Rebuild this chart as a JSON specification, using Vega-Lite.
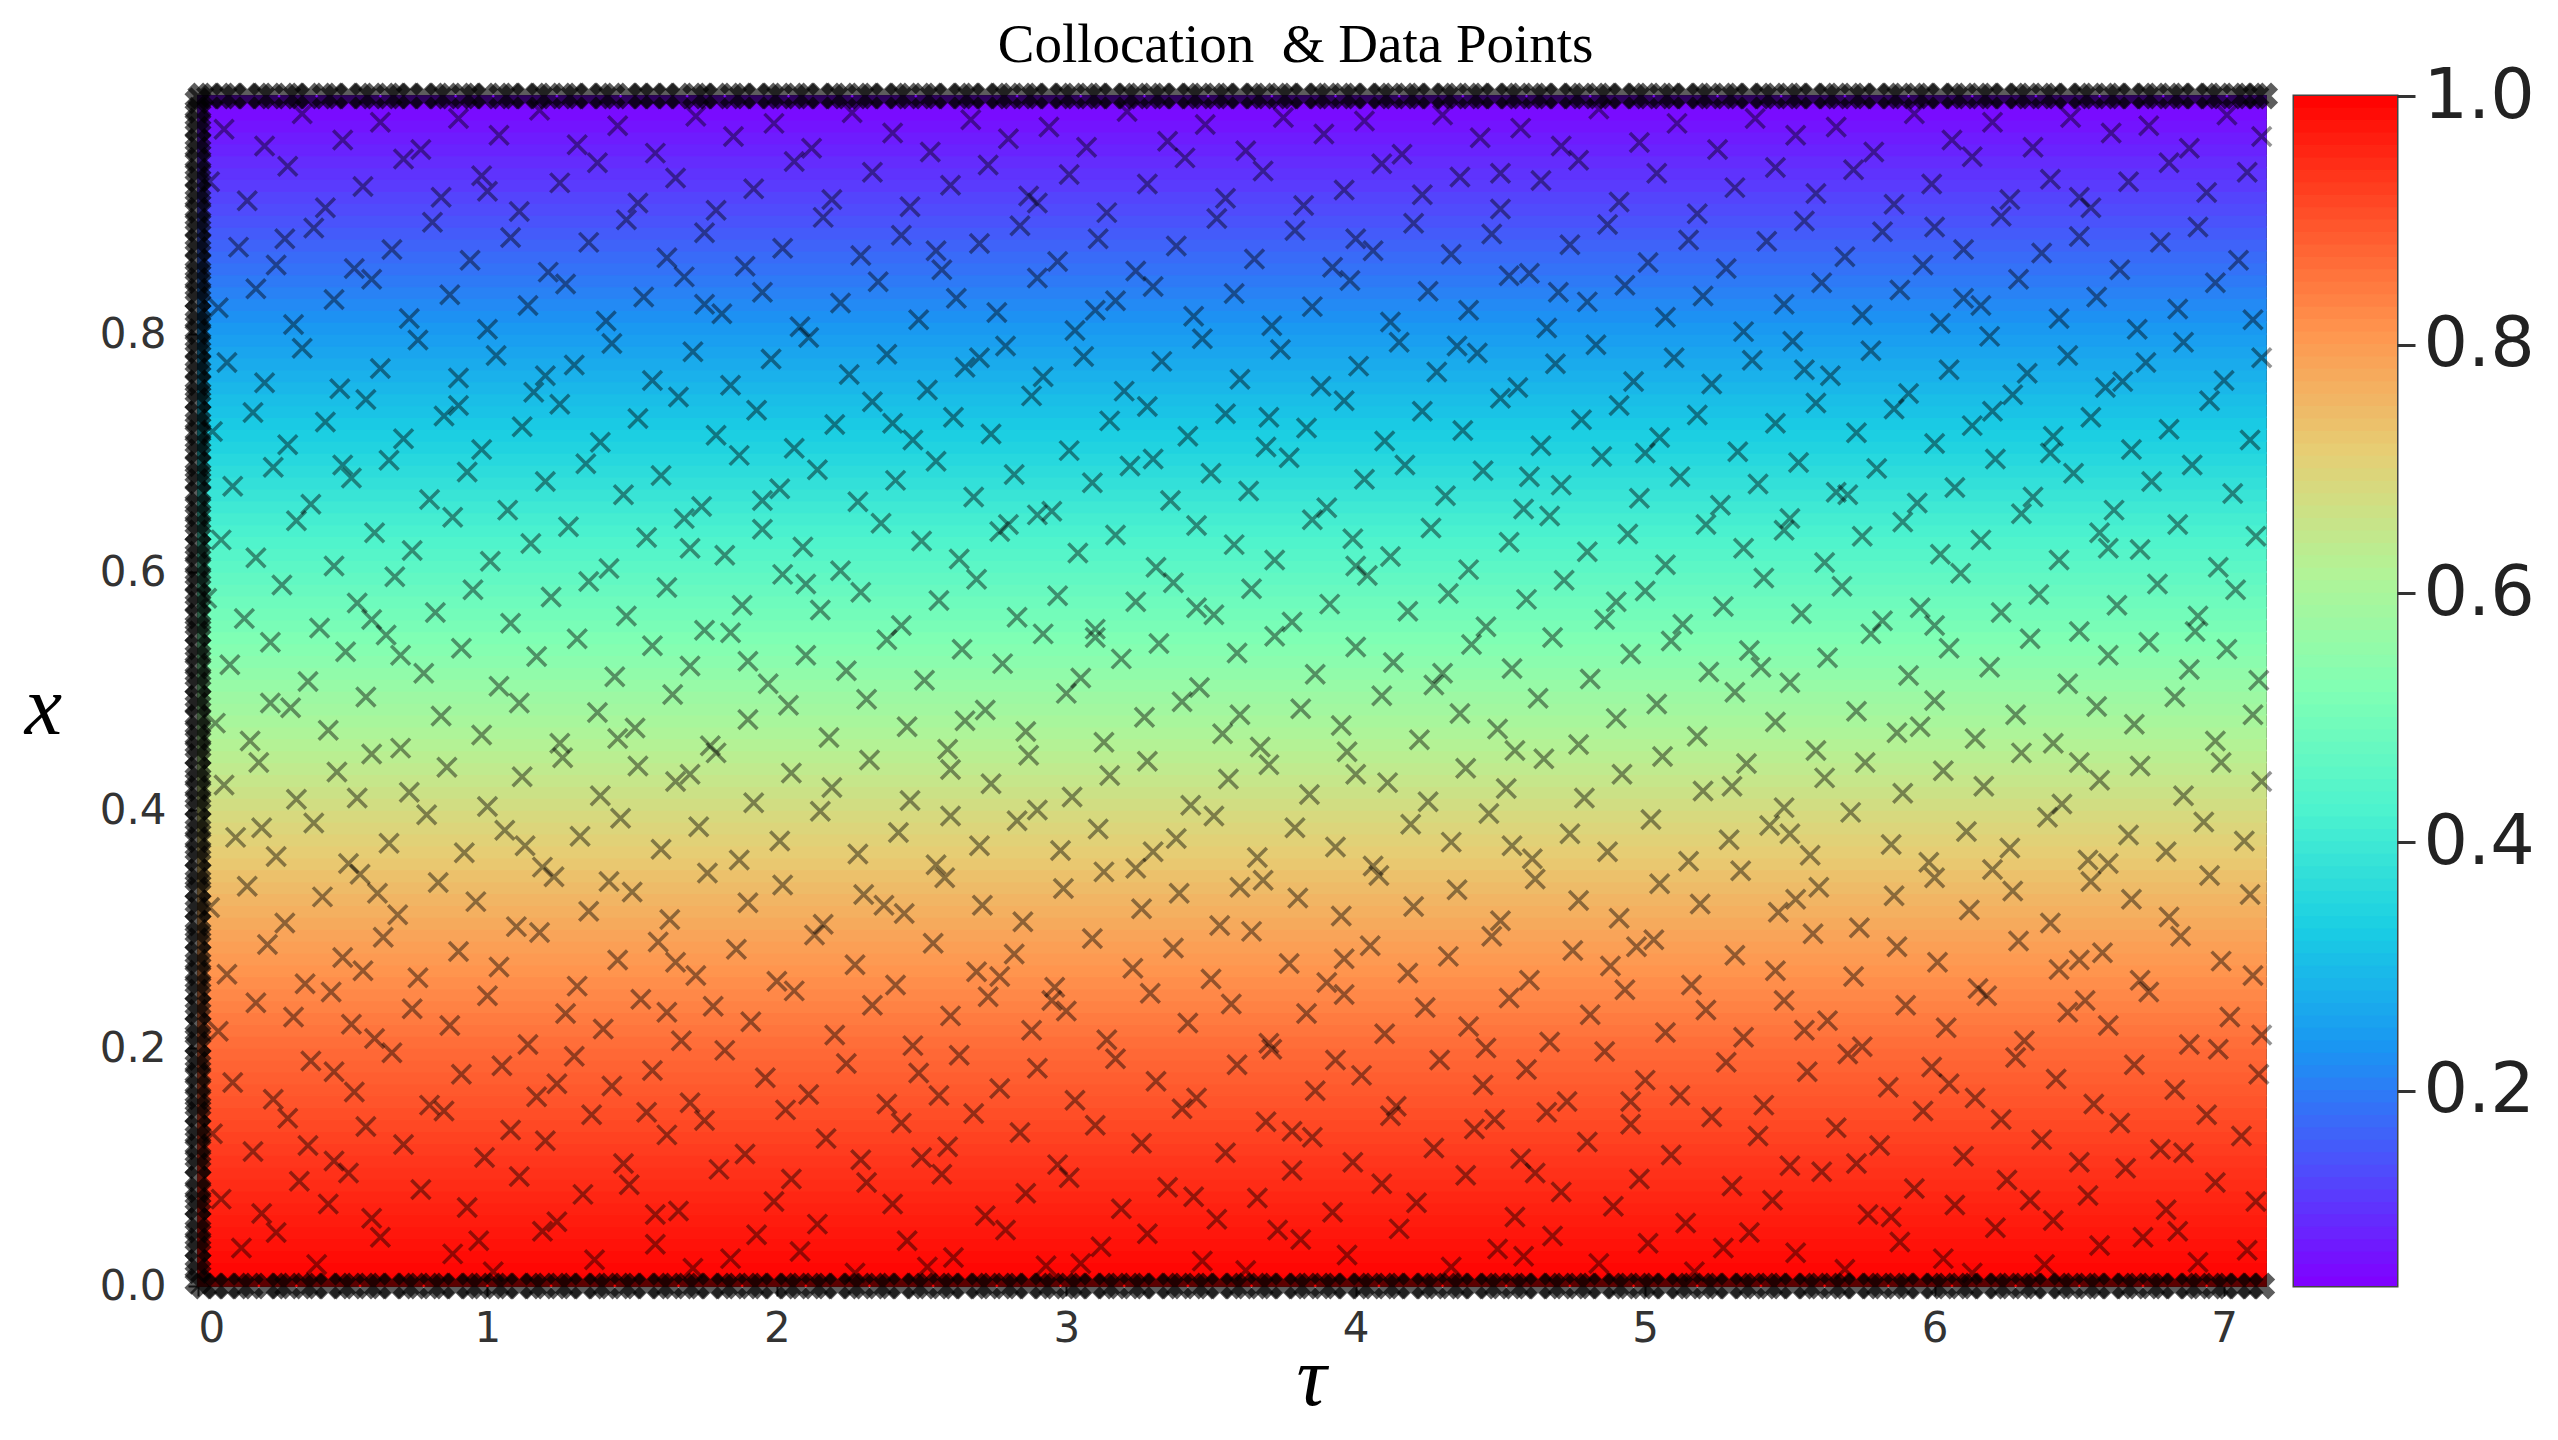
{
"$schema": "https://vega.github.io/schema/vega-lite/v6.json",
"background": "white",
"padding": {"left": 23, "top": 17, "right": 0, "bottom": 0},
"title": {"text": "Collocation\u00a0 & Data Points", "font": "Liberation Serif", "fontSize": 55, "fontWeight": "normal", "color": "black", "anchor": "middle", "offset": -14, "dx": 16},
"spacing": 28,
"bounds": "flush",
"resolve": {"scale": {"x": "independent", "y": "independent", "color": "independent"}},
"datasets": {
"bands": [
{"x0":0,"x1":0.01,"f":0.997,"u0":0.99,"u1":1,"u":0.995},{"x0":0.01,"x1":0.02,"f":0.991,"u0":0.98,"u1":0.99,"u":0.985},{"x0":0.02,"x1":0.03,"f":0.985,"u0":0.97,"u1":0.98,"u":0.975},{"x0":0.03,"x1":0.04,"f":0.978,"u0":0.96,"u1":0.97,"u":0.965},{"x0":0.04,"x1":0.05,"f":0.972,"u0":0.95,"u1":0.96,"u":0.955},
{"x0":0.05,"x1":0.06,"f":0.966,"u0":0.94,"u1":0.95,"u":0.945},{"x0":0.06,"x1":0.07,"f":0.96,"u0":0.93,"u1":0.94,"u":0.935},{"x0":0.07,"x1":0.08,"f":0.954,"u0":0.92,"u1":0.93,"u":0.925},{"x0":0.08,"x1":0.09,"f":0.947,"u0":0.91,"u1":0.92,"u":0.915},{"x0":0.09,"x1":0.1,"f":0.941,"u0":0.9,"u1":0.91,"u":0.905},
{"x0":0.1,"x1":0.11,"f":0.934,"u0":0.89,"u1":0.9,"u":0.895},{"x0":0.11,"x1":0.12,"f":0.927,"u0":0.88,"u1":0.89,"u":0.885},{"x0":0.12,"x1":0.13,"f":0.92,"u0":0.87,"u1":0.88,"u":0.875},{"x0":0.13,"x1":0.14,"f":0.913,"u0":0.86,"u1":0.87,"u":0.865},{"x0":0.14,"x1":0.15,"f":0.906,"u0":0.85,"u1":0.86,"u":0.855},
{"x0":0.15,"x1":0.16,"f":0.898,"u0":0.84,"u1":0.85,"u":0.845},{"x0":0.16,"x1":0.17,"f":0.891,"u0":0.83,"u1":0.84,"u":0.835},{"x0":0.17,"x1":0.18,"f":0.884,"u0":0.82,"u1":0.83,"u":0.825},{"x0":0.18,"x1":0.19,"f":0.877,"u0":0.81,"u1":0.82,"u":0.815},{"x0":0.19,"x1":0.2,"f":0.87,"u0":0.8,"u1":0.81,"u":0.805},
{"x0":0.2,"x1":0.21,"f":0.862,"u0":0.79,"u1":0.8,"u":0.795},{"x0":0.21,"x1":0.22,"f":0.853,"u0":0.78,"u1":0.79,"u":0.785},{"x0":0.22,"x1":0.23,"f":0.845,"u0":0.77,"u1":0.78,"u":0.775},{"x0":0.23,"x1":0.24,"f":0.836,"u0":0.76,"u1":0.77,"u":0.765},{"x0":0.24,"x1":0.25,"f":0.827,"u0":0.75,"u1":0.76,"u":0.755},
{"x0":0.25,"x1":0.26,"f":0.819,"u0":0.74,"u1":0.75,"u":0.745},{"x0":0.26,"x1":0.27,"f":0.81,"u0":0.73,"u1":0.74,"u":0.735},{"x0":0.27,"x1":0.28,"f":0.802,"u0":0.72,"u1":0.73,"u":0.725},{"x0":0.28,"x1":0.29,"f":0.793,"u0":0.71,"u1":0.72,"u":0.715},{"x0":0.29,"x1":0.3,"f":0.784,"u0":0.7,"u1":0.71,"u":0.705},
{"x0":0.3,"x1":0.31,"f":0.775,"u0":0.69,"u1":0.7,"u":0.695},{"x0":0.31,"x1":0.32,"f":0.765,"u0":0.68,"u1":0.69,"u":0.685},{"x0":0.32,"x1":0.33,"f":0.755,"u0":0.67,"u1":0.68,"u":0.675},{"x0":0.33,"x1":0.34,"f":0.745,"u0":0.66,"u1":0.67,"u":0.665},{"x0":0.34,"x1":0.35,"f":0.735,"u0":0.65,"u1":0.66,"u":0.655},
{"x0":0.35,"x1":0.36,"f":0.724,"u0":0.64,"u1":0.65,"u":0.645},{"x0":0.36,"x1":0.37,"f":0.714,"u0":0.63,"u1":0.64,"u":0.635},{"x0":0.37,"x1":0.38,"f":0.704,"u0":0.62,"u1":0.63,"u":0.625},{"x0":0.38,"x1":0.39,"f":0.694,"u0":0.61,"u1":0.62,"u":0.615},{"x0":0.39,"x1":0.4,"f":0.684,"u0":0.6,"u1":0.61,"u":0.605},
{"x0":0.4,"x1":0.41,"f":0.674,"u0":0.59,"u1":0.6,"u":0.595},{"x0":0.41,"x1":0.42,"f":0.663,"u0":0.58,"u1":0.59,"u":0.585},{"x0":0.42,"x1":0.43,"f":0.652,"u0":0.57,"u1":0.58,"u":0.575},{"x0":0.43,"x1":0.44,"f":0.641,"u0":0.56,"u1":0.57,"u":0.565},{"x0":0.44,"x1":0.45,"f":0.63,"u0":0.55,"u1":0.56,"u":0.555},
{"x0":0.45,"x1":0.46,"f":0.619,"u0":0.54,"u1":0.55,"u":0.545},{"x0":0.46,"x1":0.47,"f":0.608,"u0":0.53,"u1":0.54,"u":0.535},{"x0":0.47,"x1":0.48,"f":0.597,"u0":0.52,"u1":0.53,"u":0.525},{"x0":0.48,"x1":0.49,"f":0.586,"u0":0.51,"u1":0.52,"u":0.515},{"x0":0.49,"x1":0.5,"f":0.575,"u0":0.5,"u1":0.51,"u":0.505},
{"x0":0.5,"x1":0.51,"f":0.564,"u0":0.49,"u1":0.5,"u":0.495},{"x0":0.51,"x1":0.52,"f":0.553,"u0":0.48,"u1":0.49,"u":0.485},{"x0":0.52,"x1":0.53,"f":0.542,"u0":0.47,"u1":0.48,"u":0.475},{"x0":0.53,"x1":0.54,"f":0.531,"u0":0.46,"u1":0.47,"u":0.465},{"x0":0.54,"x1":0.55,"f":0.52,"u0":0.45,"u1":0.46,"u":0.455},
{"x0":0.55,"x1":0.56,"f":0.509,"u0":0.44,"u1":0.45,"u":0.445},{"x0":0.56,"x1":0.57,"f":0.498,"u0":0.43,"u1":0.44,"u":0.435},{"x0":0.57,"x1":0.58,"f":0.487,"u0":0.42,"u1":0.43,"u":0.425},{"x0":0.58,"x1":0.59,"f":0.476,"u0":0.41,"u1":0.42,"u":0.415},{"x0":0.59,"x1":0.6,"f":0.465,"u0":0.4,"u1":0.41,"u":0.405},
{"x0":0.6,"x1":0.61,"f":0.454,"u0":0.39,"u1":0.4,"u":0.395},{"x0":0.61,"x1":0.62,"f":0.443,"u0":0.38,"u1":0.39,"u":0.385},{"x0":0.62,"x1":0.63,"f":0.432,"u0":0.37,"u1":0.38,"u":0.375},{"x0":0.63,"x1":0.64,"f":0.421,"u0":0.36,"u1":0.37,"u":0.365},{"x0":0.64,"x1":0.65,"f":0.41,"u0":0.35,"u1":0.36,"u":0.355},
{"x0":0.65,"x1":0.66,"f":0.399,"u0":0.34,"u1":0.35,"u":0.345},{"x0":0.66,"x1":0.67,"f":0.388,"u0":0.33,"u1":0.34,"u":0.335},{"x0":0.67,"x1":0.68,"f":0.377,"u0":0.32,"u1":0.33,"u":0.325},{"x0":0.68,"x1":0.69,"f":0.366,"u0":0.31,"u1":0.32,"u":0.315},{"x0":0.69,"x1":0.7,"f":0.355,"u0":0.3,"u1":0.31,"u":0.305},
{"x0":0.7,"x1":0.71,"f":0.344,"u0":0.29,"u1":0.3,"u":0.295},{"x0":0.71,"x1":0.72,"f":0.333,"u0":0.28,"u1":0.29,"u":0.285},{"x0":0.72,"x1":0.73,"f":0.323,"u0":0.27,"u1":0.28,"u":0.275},{"x0":0.73,"x1":0.74,"f":0.312,"u0":0.26,"u1":0.27,"u":0.265},{"x0":0.74,"x1":0.75,"f":0.302,"u0":0.25,"u1":0.26,"u":0.255},
{"x0":0.75,"x1":0.76,"f":0.291,"u0":0.24,"u1":0.25,"u":0.245},{"x0":0.76,"x1":0.77,"f":0.281,"u0":0.23,"u1":0.24,"u":0.235},{"x0":0.77,"x1":0.78,"f":0.27,"u0":0.22,"u1":0.23,"u":0.225},{"x0":0.78,"x1":0.79,"f":0.26,"u0":0.21,"u1":0.22,"u":0.215},{"x0":0.79,"x1":0.8,"f":0.249,"u0":0.2,"u1":0.21,"u":0.205},
{"x0":0.8,"x1":0.81,"f":0.239,"u0":0.19,"u1":0.2,"u":0.195},{"x0":0.81,"x1":0.82,"f":0.228,"u0":0.18,"u1":0.19,"u":0.185},{"x0":0.82,"x1":0.83,"f":0.218,"u0":0.17,"u1":0.18,"u":0.175},{"x0":0.83,"x1":0.84,"f":0.207,"u0":0.16,"u1":0.17,"u":0.165},{"x0":0.84,"x1":0.85,"f":0.197,"u0":0.15,"u1":0.16,"u":0.155},
{"x0":0.85,"x1":0.86,"f":0.186,"u0":0.14,"u1":0.15,"u":0.145},{"x0":0.86,"x1":0.87,"f":0.176,"u0":0.13,"u1":0.14,"u":0.135},{"x0":0.87,"x1":0.88,"f":0.165,"u0":0.12,"u1":0.13,"u":0.125},{"x0":0.88,"x1":0.89,"f":0.155,"u0":0.11,"u1":0.12,"u":0.115},{"x0":0.89,"x1":0.9,"f":0.144,"u0":0.1,"u1":0.11,"u":0.105},
{"x0":0.9,"x1":0.91,"f":0.134,"u0":0.09,"u1":0.1,"u":0.095},{"x0":0.91,"x1":0.92,"f":0.125,"u0":0.08,"u1":0.09,"u":0.085},{"x0":0.92,"x1":0.93,"f":0.115,"u0":0.07,"u1":0.08,"u":0.075},{"x0":0.93,"x1":0.94,"f":0.105,"u0":0.06,"u1":0.07,"u":0.065},{"x0":0.94,"x1":0.95,"f":0.096,"u0":0.05,"u1":0.06,"u":0.055},
{"x0":0.95,"x1":0.96,"f":0.086,"u0":0.04,"u1":0.05,"u":0.045},{"x0":0.96,"x1":0.97,"f":0.077,"u0":0.03,"u1":0.04,"u":0.035},{"x0":0.97,"x1":0.98,"f":0.067,"u0":0.02,"u1":0.03,"u":0.025},{"x0":0.98,"x1":0.99,"f":0.057,"u0":0.01,"u1":0.02,"u":0.015},{"x0":0.99,"x1":1,"f":0.048,"u0":0,"u1":0.01,"u":0.005}
],
"pts": [
{"t":0.15,"x":0.032},{"t":0.41,"x":0.018},{"t":0.63,"x":0.041},{"t":0.88,"x":0.027},{"t":1.02,"x":0.012},{"t":1.19,"x":0.046},{"t":1.37,"x":0.022},{"t":1.58,"x":0.035},{"t":1.71,"x":0.015},{"t":1.93,"x":0.043},{"t":2.08,"x":0.029},{"t":2.27,"x":0.011},{"t":2.45,"x":0.038},{"t":2.61,"x":0.024},{"t":2.79,"x":0.047},{"t":2.93,"x":0.017},{"t":3.12,"x":0.033},{"t":3.28,"x":0.044},{"t":3.47,"x":0.021},{"t":3.62,"x":0.013},{"t":3.81,"x":0.039},{"t":3.97,"x":0.026},{"t":4.15,"x":0.048},{"t":4.33,"x":0.016},{"t":4.49,"x":0.031},{"t":4.68,"x":0.042},{"t":4.84,"x":0.019},{"t":5.01,"x":0.036},{"t":5.17,"x":0.012},{"t":5.36,"x":0.045},{"t":5.52,"x":0.028},{"t":5.69,"x":0.014},{"t":5.88,"x":0.037},{"t":6.03,"x":0.023},{"t":6.21,"x":0.049},{"t":6.38,"x":0.018},{"t":6.57,"x":0.034},{"t":6.72,"x":0.041},{"t":6.91,"x":0.02},{"t":7.08,"x":0.03},{"t":0.27,"x":0.045},{"t":0.97,"x":0.038},{"t":1.84,"x":0.023},{"t":2.52,"x":0.016},{"t":3.05,"x":0.019},{"t":3.73,"x":0.047},{"t":4.58,"x":0.025},{"t":5.27,"x":0.032},{"t":6.13,"x":0.011},{"t":6.84,"x":0.046},
{"t":0.08,"x":0.073},{"t":0.22,"x":0.061},{"t":0.35,"x":0.088},{"t":0.52,"x":0.095},{"t":0.6,"x":0.057},{"t":0.77,"x":0.081},{"t":0.93,"x":0.066},{"t":1.11,"x":0.092},{"t":1.24,"x":0.054},{"t":1.33,"x":0.077},{"t":1.49,"x":0.085},{"t":1.66,"x":0.063},{"t":1.8,"x":0.098},{"t":1.99,"x":0.071},{"t":2.14,"x":0.052},{"t":2.31,"x":0.087},{"t":2.4,"x":0.069},{"t":2.57,"x":0.094},{"t":2.72,"x":0.059},{"t":2.86,"x":0.078},{"t":3.01,"x":0.091},{"t":3.19,"x":0.065},{"t":3.35,"x":0.083},{"t":3.52,"x":0.056},{"t":3.66,"x":0.074},{"t":3.78,"x":0.097},{"t":3.92,"x":0.062},{"t":4.09,"x":0.086},{"t":4.21,"x":0.07},{"t":4.38,"x":0.093},{"t":4.55,"x":0.058},{"t":4.71,"x":0.079},{"t":4.89,"x":0.067},{"t":4.98,"x":0.09},{"t":5.14,"x":0.053},{"t":5.3,"x":0.084},{"t":5.44,"x":0.072},{"t":5.61,"x":0.096},{"t":5.77,"x":0.06},{"t":5.93,"x":0.082},{"t":6.07,"x":0.068},{"t":6.25,"x":0.089},{"t":6.41,"x":0.055},{"t":6.53,"x":0.076},{"t":6.66,"x":0.099},{"t":6.8,"x":0.064},{"t":6.97,"x":0.087},{"t":7.11,"x":0.071},{"t":0.45,"x":0.069},{"t":1.58,"x":0.06},{"t":2.05,"x":0.09},{"t":3.44,"x":0.075},{"t":4.62,"x":0.095},{"t":5.85,"x":0.058},{"t":6.33,"x":0.072},
{"t":0.05,"x":0.128},{"t":0.19,"x":0.113},{"t":0.31,"x":0.141},{"t":0.47,"x":0.105},{"t":0.58,"x":0.134},{"t":0.71,"x":0.119},{"t":0.85,"x":0.147},{"t":0.99,"x":0.108},{"t":1.08,"x":0.131},{"t":1.2,"x":0.122},{"t":1.36,"x":0.144},{"t":1.47,"x":0.103},{"t":1.62,"x":0.127},{"t":1.75,"x":0.139},{"t":1.89,"x":0.111},{"t":2.03,"x":0.148},{"t":2.17,"x":0.124},{"t":2.29,"x":0.106},{"t":2.43,"x":0.137},{"t":2.59,"x":0.117},{"t":2.68,"x":0.145},{"t":2.84,"x":0.129},{"t":2.97,"x":0.102},{"t":3.1,"x":0.135},{"t":3.26,"x":0.12},{"t":3.4,"x":0.149},{"t":3.55,"x":0.112},{"t":3.69,"x":0.138},{"t":3.85,"x":0.125},{"t":3.99,"x":0.104},{"t":4.12,"x":0.143},{"t":4.27,"x":0.116},{"t":4.41,"x":0.132},{"t":4.57,"x":0.107},{"t":4.66,"x":0.146},{"t":4.8,"x":0.121},{"t":4.95,"x":0.136},{"t":5.09,"x":0.11},{"t":5.23,"x":0.142},{"t":5.39,"x":0.126},{"t":5.5,"x":0.101},{"t":5.66,"x":0.133},{"t":5.81,"x":0.118},{"t":5.96,"x":0.147},{"t":6.1,"x":0.109},{"t":6.23,"x":0.14},{"t":6.37,"x":0.123},{"t":6.5,"x":0.104},{"t":6.64,"x":0.137},{"t":6.78,"x":0.115},{"t":6.94,"x":0.144},{"t":7.06,"x":0.126},{"t":0.38,"x":0.118},{"t":1.55,"x":0.146},{"t":2.5,"x":0.108},{"t":3.78,"x":0.13},{"t":4.48,"x":0.14},{"t":5.73,"x":0.103},{"t":6.86,"x":0.112},
{"t":0.12,"x":0.171},{"t":0.26,"x":0.157},{"t":0.39,"x":0.189},{"t":0.54,"x":0.163},{"t":0.67,"x":0.196},{"t":0.8,"x":0.152},{"t":0.91,"x":0.178},{"t":1.05,"x":0.185},{"t":1.17,"x":0.159},{"t":1.3,"x":0.193},{"t":1.43,"x":0.168},{"t":1.57,"x":0.181},{"t":1.7,"x":0.154},{"t":1.82,"x":0.198},{"t":1.96,"x":0.175},{"t":2.11,"x":0.161},{"t":2.24,"x":0.187},{"t":2.38,"x":0.153},{"t":2.49,"x":0.179},{"t":2.63,"x":0.194},{"t":2.77,"x":0.166},{"t":2.9,"x":0.183},{"t":3.03,"x":0.156},{"t":3.17,"x":0.191},{"t":3.31,"x":0.172},{"t":3.45,"x":0.158},{"t":3.59,"x":0.186},{"t":3.71,"x":0.199},{"t":3.86,"x":0.164},{"t":4.02,"x":0.177},{"t":4.14,"x":0.151},{"t":4.29,"x":0.19},{"t":4.44,"x":0.169},{"t":4.59,"x":0.182},{"t":4.73,"x":0.155},{"t":4.86,"x":0.197},{"t":5.0,"x":0.173},{"t":5.12,"x":0.16},{"t":5.28,"x":0.188},{"t":5.41,"x":0.152},{"t":5.56,"x":0.18},{"t":5.7,"x":0.195},{"t":5.84,"x":0.167},{"t":5.99,"x":0.184},{"t":6.14,"x":0.158},{"t":6.28,"x":0.192},{"t":6.42,"x":0.174},{"t":6.55,"x":0.153},{"t":6.69,"x":0.186},{"t":6.83,"x":0.165},{"t":6.98,"x":0.199},{"t":7.12,"x":0.178},{"t":0.47,"x":0.18},{"t":1.24,"x":0.17},{"t":2.56,"x":0.16},{"t":3.93,"x":0.19},{"t":4.95,"x":0.155},{"t":6.05,"x":0.17},
{"t":0.07,"x":0.214},{"t":0.2,"x":0.238},{"t":0.33,"x":0.226},{"t":0.46,"x":0.247},{"t":0.61,"x":0.208},{"t":0.74,"x":0.233},{"t":0.87,"x":0.219},{"t":1.0,"x":0.244},{"t":1.14,"x":0.203},{"t":1.27,"x":0.229},{"t":1.4,"x":0.216},{"t":1.53,"x":0.241},{"t":1.67,"x":0.206},{"t":1.78,"x":0.235},{"t":1.91,"x":0.222},{"t":2.06,"x":0.248},{"t":2.2,"x":0.211},{"t":2.33,"x":0.236},{"t":2.47,"x":0.202},{"t":2.6,"x":0.227},{"t":2.73,"x":0.243},{"t":2.88,"x":0.215},{"t":3.0,"x":0.231},{"t":3.14,"x":0.207},{"t":3.29,"x":0.246},{"t":3.42,"x":0.221},{"t":3.57,"x":0.237},{"t":3.7,"x":0.204},{"t":3.83,"x":0.229},{"t":3.96,"x":0.245},{"t":4.1,"x":0.212},{"t":4.24,"x":0.234},{"t":4.39,"x":0.218},{"t":4.53,"x":0.242},{"t":4.67,"x":0.205},{"t":4.81,"x":0.228},{"t":4.93,"x":0.249},{"t":5.07,"x":0.213},{"t":5.21,"x":0.232},{"t":5.34,"x":0.209},{"t":5.48,"x":0.24},{"t":5.63,"x":0.223},{"t":5.75,"x":0.201},{"t":5.9,"x":0.236},{"t":6.04,"x":0.217},{"t":6.18,"x":0.244},{"t":6.31,"x":0.206},{"t":6.46,"x":0.23},{"t":6.6,"x":0.219},{"t":6.74,"x":0.247},{"t":6.88,"x":0.203},{"t":7.02,"x":0.226},{"t":7.13,"x":0.211},{"t":0.53,"x":0.22},{"t":1.62,"x":0.23},{"t":2.95,"x":0.24},{"t":4.45,"x":0.2},{"t":5.55,"x":0.215},{"t":6.52,"x":0.24},
{"t":0.1,"x":0.262},{"t":0.24,"x":0.287},{"t":0.37,"x":0.254},{"t":0.5,"x":0.276},{"t":0.64,"x":0.293},{"t":0.76,"x":0.259},{"t":0.9,"x":0.281},{"t":1.04,"x":0.268},{"t":1.18,"x":0.297},{"t":1.31,"x":0.252},{"t":1.45,"x":0.274},{"t":1.59,"x":0.289},{"t":1.72,"x":0.261},{"t":1.86,"x":0.283},{"t":2.0,"x":0.256},{"t":2.13,"x":0.295},{"t":2.27,"x":0.27},{"t":2.41,"x":0.253},{"t":2.54,"x":0.288},{"t":2.69,"x":0.264},{"t":2.82,"x":0.279},{"t":2.96,"x":0.251},{"t":3.09,"x":0.292},{"t":3.23,"x":0.267},{"t":3.37,"x":0.284},{"t":3.5,"x":0.258},{"t":3.64,"x":0.298},{"t":3.77,"x":0.271},{"t":3.9,"x":0.255},{"t":4.05,"x":0.286},{"t":4.18,"x":0.263},{"t":4.32,"x":0.277},{"t":4.47,"x":0.294},{"t":4.6,"x":0.257},{"t":4.75,"x":0.282},{"t":4.88,"x":0.269},{"t":5.03,"x":0.291},{"t":5.16,"x":0.253},{"t":5.31,"x":0.278},{"t":5.45,"x":0.265},{"t":5.58,"x":0.296},{"t":5.72,"x":0.26},{"t":5.87,"x":0.285},{"t":6.01,"x":0.272},{"t":6.15,"x":0.25},{"t":6.29,"x":0.29},{"t":6.43,"x":0.266},{"t":6.58,"x":0.28},{"t":6.71,"x":0.257},{"t":6.85,"x":0.294},{"t":6.99,"x":0.273},{"t":7.1,"x":0.261},{"t":0.57,"x":0.265},{"t":1.65,"x":0.272},{"t":2.77,"x":0.26},{"t":3.96,"x":0.275},{"t":4.97,"x":0.285},{"t":6.5,"x":0.274},
{"t":0.04,"x":0.318},{"t":0.17,"x":0.336},{"t":0.3,"x":0.305},{"t":0.43,"x":0.327},{"t":0.56,"x":0.346},{"t":0.69,"x":0.312},{"t":0.83,"x":0.339},{"t":0.96,"x":0.323},{"t":1.1,"x":0.302},{"t":1.23,"x":0.344},{"t":1.35,"x":0.315},{"t":1.5,"x":0.331},{"t":1.63,"x":0.308},{"t":1.76,"x":0.347},{"t":1.9,"x":0.322},{"t":2.02,"x":0.337},{"t":2.16,"x":0.304},{"t":2.3,"x":0.329},{"t":2.44,"x":0.313},{"t":2.58,"x":0.343},{"t":2.71,"x":0.32},{"t":2.85,"x":0.306},{"t":2.99,"x":0.334},{"t":3.13,"x":0.348},{"t":3.26,"x":0.317},{"t":3.39,"x":0.33},{"t":3.53,"x":0.303},{"t":3.68,"x":0.341},{"t":3.8,"x":0.326},{"t":3.95,"x":0.311},{"t":4.08,"x":0.345},{"t":4.2,"x":0.319},{"t":4.35,"x":0.333},{"t":4.5,"x":0.307},{"t":4.62,"x":0.342},{"t":4.77,"x":0.324},{"t":4.91,"x":0.309},{"t":5.05,"x":0.338},{"t":5.19,"x":0.321},{"t":5.33,"x":0.349},{"t":5.46,"x":0.314},{"t":5.6,"x":0.335},{"t":5.74,"x":0.301},{"t":5.86,"x":0.328},{"t":6.0,"x":0.343},{"t":6.12,"x":0.316},{"t":6.27,"x":0.332},{"t":6.4,"x":0.305},{"t":6.54,"x":0.34},{"t":6.68,"x":0.325},{"t":6.81,"x":0.31},{"t":6.95,"x":0.345},{"t":7.09,"x":0.329},{"t":0.62,"x":0.33},{"t":1.42,"x":0.34},{"t":2.37,"x":0.32},{"t":3.6,"x":0.335},{"t":5.52,"x":0.325},{"t":6.2,"x":0.35},
{"t":0.13,"x":0.377},{"t":0.27,"x":0.361},{"t":0.4,"x":0.389},{"t":0.52,"x":0.355},{"t":0.66,"x":0.372},{"t":0.79,"x":0.396},{"t":0.92,"x":0.364},{"t":1.06,"x":0.383},{"t":1.19,"x":0.352},{"t":1.32,"x":0.378},{"t":1.46,"x":0.393},{"t":1.6,"x":0.367},{"t":1.73,"x":0.386},{"t":1.87,"x":0.358},{"t":2.01,"x":0.374},{"t":2.15,"x":0.399},{"t":2.28,"x":0.363},{"t":2.42,"x":0.381},{"t":2.55,"x":0.354},{"t":2.7,"x":0.37},{"t":2.83,"x":0.391},{"t":2.98,"x":0.366},{"t":3.11,"x":0.384},{"t":3.24,"x":0.351},{"t":3.38,"x":0.376},{"t":3.51,"x":0.395},{"t":3.66,"x":0.36},{"t":3.79,"x":0.385},{"t":3.93,"x":0.369},{"t":4.06,"x":0.353},{"t":4.19,"x":0.388},{"t":4.33,"x":0.373},{"t":4.46,"x":0.397},{"t":4.61,"x":0.359},{"t":4.74,"x":0.38},{"t":4.87,"x":0.365},{"t":5.02,"x":0.392},{"t":5.15,"x":0.357},{"t":5.29,"x":0.375},{"t":5.43,"x":0.387},{"t":5.57,"x":0.362},{"t":5.71,"x":0.398},{"t":5.85,"x":0.371},{"t":5.98,"x":0.356},{"t":6.11,"x":0.382},{"t":6.26,"x":0.368},{"t":6.39,"x":0.394},{"t":6.53,"x":0.358},{"t":6.67,"x":0.379},{"t":6.8,"x":0.365},{"t":6.93,"x":0.39},{"t":7.07,"x":0.374},{"t":0.22,"x":0.385},{"t":1.13,"x":0.37},{"t":2.6,"x":0.395},{"t":3.3,"x":0.365},{"t":4.54,"x":0.37},{"t":5.5,"x":0.38},{"t":6.6,"x":0.355},
{"t":0.09,"x":0.421},{"t":0.21,"x":0.44},{"t":0.34,"x":0.409},{"t":0.48,"x":0.432},{"t":0.6,"x":0.447},{"t":0.73,"x":0.415},{"t":0.86,"x":0.436},{"t":1.0,"x":0.403},{"t":1.12,"x":0.428},{"t":1.26,"x":0.444},{"t":1.39,"x":0.412},{"t":1.52,"x":0.437},{"t":1.65,"x":0.424},{"t":1.79,"x":0.448},{"t":1.92,"x":0.406},{"t":2.05,"x":0.431},{"t":2.19,"x":0.419},{"t":2.32,"x":0.442},{"t":2.46,"x":0.408},{"t":2.6,"x":0.434},{"t":2.74,"x":0.422},{"t":2.87,"x":0.446},{"t":3.02,"x":0.411},{"t":3.15,"x":0.429},{"t":3.28,"x":0.441},{"t":3.43,"x":0.404},{"t":3.56,"x":0.426},{"t":3.7,"x":0.438},{"t":3.84,"x":0.413},{"t":3.97,"x":0.449},{"t":4.11,"x":0.423},{"t":4.25,"x":0.407},{"t":4.38,"x":0.435},{"t":4.52,"x":0.418},{"t":4.65,"x":0.443},{"t":4.79,"x":0.41},{"t":4.92,"x":0.43},{"t":5.06,"x":0.445},{"t":5.2,"x":0.416},{"t":5.35,"x":0.439},{"t":5.48,"x":0.402},{"t":5.62,"x":0.427},{"t":5.76,"x":0.44},{"t":5.89,"x":0.414},{"t":6.03,"x":0.433},{"t":6.17,"x":0.42},{"t":6.3,"x":0.448},{"t":6.44,"x":0.405},{"t":6.57,"x":0.425},{"t":6.71,"x":0.437},{"t":6.86,"x":0.412},{"t":6.99,"x":0.44},{"t":7.13,"x":0.424},{"t":0.55,"x":0.41},{"t":1.7,"x":0.43},{"t":2.9,"x":0.4},{"t":4.0,"x":0.43},{"t":5.3,"x":0.42},{"t":6.5,"x":0.44},
{"t":0.06,"x":0.473},{"t":0.18,"x":0.458},{"t":0.32,"x":0.486},{"t":0.45,"x":0.467},{"t":0.58,"x":0.495},{"t":0.7,"x":0.452},{"t":0.84,"x":0.479},{"t":0.98,"x":0.463},{"t":1.11,"x":0.49},{"t":1.25,"x":0.456},{"t":1.38,"x":0.482},{"t":1.51,"x":0.469},{"t":1.64,"x":0.497},{"t":1.77,"x":0.454},{"t":1.9,"x":0.476},{"t":2.04,"x":0.488},{"t":2.18,"x":0.461},{"t":2.31,"x":0.493},{"t":2.45,"x":0.47},{"t":2.59,"x":0.451},{"t":2.72,"x":0.484},{"t":2.86,"x":0.466},{"t":3.0,"x":0.498},{"t":3.13,"x":0.457},{"t":3.27,"x":0.478},{"t":3.4,"x":0.491},{"t":3.54,"x":0.464},{"t":3.67,"x":0.453},{"t":3.81,"x":0.485},{"t":3.95,"x":0.471},{"t":4.09,"x":0.496},{"t":4.22,"x":0.459},{"t":4.36,"x":0.481},{"t":4.49,"x":0.468},{"t":4.63,"x":0.494},{"t":4.77,"x":0.455},{"t":4.9,"x":0.477},{"t":5.04,"x":0.489},{"t":5.18,"x":0.462},{"t":5.31,"x":0.499},{"t":5.45,"x":0.474},{"t":5.59,"x":0.45},{"t":5.73,"x":0.483},{"t":5.87,"x":0.465},{"t":6.0,"x":0.492},{"t":6.14,"x":0.46},{"t":6.28,"x":0.48},{"t":6.41,"x":0.456},{"t":6.56,"x":0.487},{"t":6.69,"x":0.472},{"t":6.83,"x":0.495},{"t":6.97,"x":0.458},{"t":7.1,"x":0.48},{"t":0.25,"x":0.49},{"t":1.45,"x":0.46},{"t":2.65,"x":0.475},{"t":3.6,"x":0.48},{"t":4.55,"x":0.45},{"t":5.95,"x":0.47},
{"t":0.11,"x":0.522},{"t":0.25,"x":0.541},{"t":0.38,"x":0.508},{"t":0.51,"x":0.533},{"t":0.65,"x":0.547},{"t":0.78,"x":0.515},{"t":0.91,"x":0.536},{"t":1.04,"x":0.504},{"t":1.17,"x":0.529},{"t":1.31,"x":0.544},{"t":1.44,"x":0.512},{"t":1.57,"x":0.538},{"t":1.7,"x":0.521},{"t":1.84,"x":0.549},{"t":1.97,"x":0.506},{"t":2.1,"x":0.53},{"t":2.24,"x":0.517},{"t":2.38,"x":0.543},{"t":2.51,"x":0.509},{"t":2.64,"x":0.535},{"t":2.78,"x":0.523},{"t":2.92,"x":0.548},{"t":3.05,"x":0.511},{"t":3.19,"x":0.527},{"t":3.32,"x":0.54},{"t":3.46,"x":0.503},{"t":3.59,"x":0.532},{"t":3.72,"x":0.546},{"t":3.86,"x":0.514},{"t":4.0,"x":0.537},{"t":4.13,"x":0.524},{"t":4.27,"x":0.505},{"t":4.4,"x":0.539},{"t":4.54,"x":0.519},{"t":4.68,"x":0.545},{"t":4.81,"x":0.51},{"t":4.95,"x":0.531},{"t":5.09,"x":0.542},{"t":5.22,"x":0.516},{"t":5.36,"x":0.534},{"t":5.5,"x":0.507},{"t":5.63,"x":0.528},{"t":5.78,"x":0.548},{"t":5.91,"x":0.513},{"t":6.05,"x":0.536},{"t":6.19,"x":0.52},{"t":6.33,"x":0.544},{"t":6.46,"x":0.506},{"t":6.6,"x":0.53},{"t":6.74,"x":0.541},{"t":6.88,"x":0.518},{"t":7.01,"x":0.535},{"t":7.12,"x":0.509},{"t":0.7,"x":0.53},{"t":1.9,"x":0.525},{"t":3.1,"x":0.545},{"t":4.3,"x":0.515},{"t":5.4,"x":0.52},{"t":6.9,"x":0.55},
{"t":0.03,"x":0.578},{"t":0.16,"x":0.561},{"t":0.29,"x":0.589},{"t":0.42,"x":0.553},{"t":0.55,"x":0.574},{"t":0.68,"x":0.596},{"t":0.82,"x":0.566},{"t":0.95,"x":0.585},{"t":1.08,"x":0.557},{"t":1.22,"x":0.579},{"t":1.35,"x":0.592},{"t":1.48,"x":0.563},{"t":1.62,"x":0.587},{"t":1.75,"x":0.551},{"t":1.88,"x":0.572},{"t":2.02,"x":0.598},{"t":2.15,"x":0.568},{"t":2.29,"x":0.583},{"t":2.43,"x":0.555},{"t":2.56,"x":0.576},{"t":2.69,"x":0.594},{"t":2.83,"x":0.562},{"t":2.97,"x":0.58},{"t":3.1,"x":0.552},{"t":3.24,"x":0.575},{"t":3.37,"x":0.591},{"t":3.51,"x":0.564},{"t":3.64,"x":0.586},{"t":3.78,"x":0.558},{"t":3.91,"x":0.573},{"t":4.04,"x":0.597},{"t":4.18,"x":0.567},{"t":4.32,"x":0.582},{"t":4.45,"x":0.554},{"t":4.59,"x":0.577},{"t":4.72,"x":0.593},{"t":4.86,"x":0.56},{"t":5.0,"x":0.584},{"t":5.13,"x":0.556},{"t":5.27,"x":0.571},{"t":5.41,"x":0.595},{"t":5.54,"x":0.565},{"t":5.68,"x":0.588},{"t":5.82,"x":0.559},{"t":5.95,"x":0.57},{"t":6.09,"x":0.599},{"t":6.23,"x":0.566},{"t":6.36,"x":0.581},{"t":6.5,"x":0.55},{"t":6.63,"x":0.572},{"t":6.77,"x":0.59},{"t":6.91,"x":0.563},{"t":7.04,"x":0.585},{"t":0.6,"x":0.56},{"t":2.1,"x":0.59},{"t":3.45,"x":0.57},{"t":4.9,"x":0.575},{"t":6.0,"x":0.555},
{"t":0.08,"x":0.627},{"t":0.2,"x":0.612},{"t":0.34,"x":0.643},{"t":0.47,"x":0.605},{"t":0.61,"x":0.633},{"t":0.74,"x":0.618},{"t":0.88,"x":0.646},{"t":1.01,"x":0.609},{"t":1.15,"x":0.624},{"t":1.28,"x":0.638},{"t":1.42,"x":0.603},{"t":1.55,"x":0.629},{"t":1.68,"x":0.645},{"t":1.82,"x":0.614},{"t":1.95,"x":0.636},{"t":2.09,"x":0.621},{"t":2.22,"x":0.601},{"t":2.36,"x":0.641},{"t":2.5,"x":0.626},{"t":2.63,"x":0.611},{"t":2.77,"x":0.634},{"t":2.9,"x":0.648},{"t":3.04,"x":0.616},{"t":3.17,"x":0.631},{"t":3.31,"x":0.604},{"t":3.45,"x":0.639},{"t":3.58,"x":0.623},{"t":3.72,"x":0.61},{"t":3.85,"x":0.644},{"t":3.99,"x":0.628},{"t":4.12,"x":0.613},{"t":4.26,"x":0.637},{"t":4.39,"x":0.602},{"t":4.53,"x":0.625},{"t":4.67,"x":0.647},{"t":4.8,"x":0.617},{"t":4.94,"x":0.632},{"t":5.07,"x":0.606},{"t":5.21,"x":0.64},{"t":5.34,"x":0.62},{"t":5.48,"x":0.635},{"t":5.62,"x":0.608},{"t":5.75,"x":0.63},{"t":5.89,"x":0.642},{"t":6.02,"x":0.615},{"t":6.16,"x":0.627},{"t":6.3,"x":0.649},{"t":6.43,"x":0.61},{"t":6.57,"x":0.633},{"t":6.71,"x":0.619},{"t":6.84,"x":0.64},{"t":6.98,"x":0.604},{"t":7.11,"x":0.63},{"t":1.7,"x":0.62},{"t":2.8,"x":0.64},{"t":4.0,"x":0.605},{"t":5.5,"x":0.645},{"t":6.6,"x":0.62},
{"t":0.12,"x":0.672},{"t":0.26,"x":0.688},{"t":0.39,"x":0.657},{"t":0.53,"x":0.679},{"t":0.66,"x":0.694},{"t":0.8,"x":0.661},{"t":0.93,"x":0.684},{"t":1.07,"x":0.652},{"t":1.2,"x":0.676},{"t":1.34,"x":0.691},{"t":1.47,"x":0.665},{"t":1.6,"x":0.681},{"t":1.74,"x":0.655},{"t":1.87,"x":0.698},{"t":2.01,"x":0.67},{"t":2.14,"x":0.686},{"t":2.28,"x":0.659},{"t":2.41,"x":0.677},{"t":2.55,"x":0.693},{"t":2.68,"x":0.663},{"t":2.82,"x":0.682},{"t":2.95,"x":0.651},{"t":3.09,"x":0.675},{"t":3.22,"x":0.689},{"t":3.36,"x":0.66},{"t":3.5,"x":0.683},{"t":3.63,"x":0.668},{"t":3.77,"x":0.696},{"t":3.9,"x":0.654},{"t":4.03,"x":0.678},{"t":4.17,"x":0.69},{"t":4.31,"x":0.664},{"t":4.44,"x":0.685},{"t":4.58,"x":0.653},{"t":4.71,"x":0.673},{"t":4.85,"x":0.697},{"t":4.98,"x":0.662},{"t":5.12,"x":0.68},{"t":5.26,"x":0.656},{"t":5.39,"x":0.674},{"t":5.53,"x":0.692},{"t":5.66,"x":0.667},{"t":5.8,"x":0.687},{"t":5.94,"x":0.658},{"t":6.07,"x":0.671},{"t":6.21,"x":0.695},{"t":6.34,"x":0.663},{"t":6.48,"x":0.683},{"t":6.62,"x":0.652},{"t":6.75,"x":0.676},{"t":6.89,"x":0.69},{"t":7.03,"x":0.666},{"t":0.5,"x":0.69},{"t":1.95,"x":0.66},{"t":3.3,"x":0.695},{"t":4.6,"x":0.68},{"t":5.7,"x":0.665},{"t":6.4,"x":0.7},
{"t":0.05,"x":0.718},{"t":0.19,"x":0.734},{"t":0.31,"x":0.707},{"t":0.44,"x":0.726},{"t":0.58,"x":0.745},{"t":0.71,"x":0.712},{"t":0.85,"x":0.731},{"t":0.98,"x":0.703},{"t":1.12,"x":0.722},{"t":1.25,"x":0.741},{"t":1.39,"x":0.709},{"t":1.52,"x":0.729},{"t":1.66,"x":0.747},{"t":1.79,"x":0.715},{"t":1.93,"x":0.736},{"t":2.06,"x":0.704},{"t":2.2,"x":0.724},{"t":2.33,"x":0.743},{"t":2.47,"x":0.711},{"t":2.61,"x":0.73},{"t":2.74,"x":0.716},{"t":2.88,"x":0.748},{"t":3.01,"x":0.702},{"t":3.15,"x":0.727},{"t":3.28,"x":0.739},{"t":3.42,"x":0.714},{"t":3.55,"x":0.733},{"t":3.69,"x":0.705},{"t":3.83,"x":0.721},{"t":3.96,"x":0.744},{"t":4.1,"x":0.71},{"t":4.23,"x":0.735},{"t":4.37,"x":0.719},{"t":4.5,"x":0.746},{"t":4.64,"x":0.706},{"t":4.78,"x":0.728},{"t":4.91,"x":0.74},{"t":5.05,"x":0.713},{"t":5.18,"x":0.732},{"t":5.32,"x":0.701},{"t":5.45,"x":0.725},{"t":5.59,"x":0.742},{"t":5.73,"x":0.717},{"t":5.86,"x":0.737},{"t":6.0,"x":0.708},{"t":6.13,"x":0.723},{"t":6.27,"x":0.749},{"t":6.41,"x":0.714},{"t":6.54,"x":0.73},{"t":6.68,"x":0.703},{"t":6.81,"x":0.72},{"t":6.95,"x":0.744},{"t":7.09,"x":0.711},{"t":0.9,"x":0.74},{"t":2.4,"x":0.725},{"t":3.7,"x":0.73},{"t":5.0,"x":0.7},{"t":6.2,"x":0.735},
{"t":0.1,"x":0.776},{"t":0.23,"x":0.759},{"t":0.36,"x":0.788},{"t":0.49,"x":0.754},{"t":0.63,"x":0.771},{"t":0.76,"x":0.795},{"t":0.9,"x":0.763},{"t":1.03,"x":0.782},{"t":1.16,"x":0.751},{"t":1.3,"x":0.774},{"t":1.43,"x":0.792},{"t":1.57,"x":0.761},{"t":1.71,"x":0.785},{"t":1.84,"x":0.757},{"t":1.98,"x":0.779},{"t":2.11,"x":0.797},{"t":2.25,"x":0.766},{"t":2.38,"x":0.783},{"t":2.52,"x":0.753},{"t":2.65,"x":0.772},{"t":2.79,"x":0.79},{"t":2.92,"x":0.764},{"t":3.06,"x":0.781},{"t":3.2,"x":0.752},{"t":3.33,"x":0.777},{"t":3.47,"x":0.796},{"t":3.6,"x":0.762},{"t":3.74,"x":0.787},{"t":3.88,"x":0.756},{"t":4.01,"x":0.773},{"t":4.15,"x":0.793},{"t":4.28,"x":0.768},{"t":4.42,"x":0.784},{"t":4.56,"x":0.755},{"t":4.69,"x":0.775},{"t":4.83,"x":0.791},{"t":4.96,"x":0.76},{"t":5.1,"x":0.78},{"t":5.23,"x":0.758},{"t":5.37,"x":0.778},{"t":5.51,"x":0.794},{"t":5.64,"x":0.765},{"t":5.78,"x":0.786},{"t":5.91,"x":0.75},{"t":6.05,"x":0.77},{"t":6.19,"x":0.798},{"t":6.32,"x":0.767},{"t":6.46,"x":0.782},{"t":6.59,"x":0.755},{"t":6.73,"x":0.776},{"t":6.86,"x":0.793},{"t":7.0,"x":0.761},{"t":7.13,"x":0.78},{"t":1.2,"x":0.765},{"t":2.7,"x":0.78},{"t":4.35,"x":0.79},{"t":5.55,"x":0.77},{"t":6.65,"x":0.76},
{"t":0.07,"x":0.822},{"t":0.2,"x":0.838},{"t":0.33,"x":0.808},{"t":0.47,"x":0.829},{"t":0.6,"x":0.846},{"t":0.73,"x":0.813},{"t":0.87,"x":0.833},{"t":1.0,"x":0.804},{"t":1.14,"x":0.824},{"t":1.27,"x":0.842},{"t":1.41,"x":0.811},{"t":1.54,"x":0.831},{"t":1.68,"x":0.848},{"t":1.81,"x":0.817},{"t":1.95,"x":0.835},{"t":2.08,"x":0.806},{"t":2.22,"x":0.826},{"t":2.35,"x":0.844},{"t":2.49,"x":0.812},{"t":2.62,"x":0.83},{"t":2.76,"x":0.818},{"t":2.9,"x":0.847},{"t":3.03,"x":0.803},{"t":3.17,"x":0.828},{"t":3.3,"x":0.84},{"t":3.44,"x":0.815},{"t":3.58,"x":0.834},{"t":3.71,"x":0.807},{"t":3.85,"x":0.823},{"t":3.98,"x":0.845},{"t":4.12,"x":0.81},{"t":4.25,"x":0.836},{"t":4.39,"x":0.82},{"t":4.53,"x":0.849},{"t":4.66,"x":0.805},{"t":4.8,"x":0.827},{"t":4.93,"x":0.841},{"t":5.07,"x":0.814},{"t":5.2,"x":0.832},{"t":5.34,"x":0.802},{"t":5.48,"x":0.825},{"t":5.61,"x":0.843},{"t":5.75,"x":0.816},{"t":5.88,"x":0.837},{"t":6.02,"x":0.809},{"t":6.16,"x":0.824},{"t":6.29,"x":0.846},{"t":6.43,"x":0.813},{"t":6.56,"x":0.831},{"t":6.7,"x":0.804},{"t":6.84,"x":0.821},{"t":6.97,"x":0.843},{"t":7.1,"x":0.812},{"t":1.75,"x":0.825},{"t":3.1,"x":0.82},{"t":4.7,"x":0.835},{"t":6.1,"x":0.83},
{"t":0.14,"x":0.873},{"t":0.27,"x":0.858},{"t":0.4,"x":0.889},{"t":0.54,"x":0.855},{"t":0.67,"x":0.871},{"t":0.81,"x":0.894},{"t":0.94,"x":0.862},{"t":1.08,"x":0.881},{"t":1.21,"x":0.852},{"t":1.35,"x":0.877},{"t":1.48,"x":0.896},{"t":1.62,"x":0.864},{"t":1.75,"x":0.885},{"t":1.89,"x":0.857},{"t":2.02,"x":0.872},{"t":2.16,"x":0.898},{"t":2.29,"x":0.866},{"t":2.43,"x":0.883},{"t":2.57,"x":0.854},{"t":2.7,"x":0.876},{"t":2.84,"x":0.891},{"t":2.97,"x":0.861},{"t":3.11,"x":0.88},{"t":3.24,"x":0.853},{"t":3.38,"x":0.874},{"t":3.52,"x":0.897},{"t":3.65,"x":0.863},{"t":3.79,"x":0.887},{"t":3.92,"x":0.856},{"t":4.06,"x":0.87},{"t":4.2,"x":0.893},{"t":4.33,"x":0.867},{"t":4.47,"x":0.884},{"t":4.6,"x":0.851},{"t":4.74,"x":0.875},{"t":4.87,"x":0.892},{"t":5.01,"x":0.86},{"t":5.15,"x":0.879},{"t":5.28,"x":0.855},{"t":5.42,"x":0.878},{"t":5.55,"x":0.895},{"t":5.69,"x":0.865},{"t":5.82,"x":0.886},{"t":5.96,"x":0.858},{"t":6.1,"x":0.871},{"t":6.23,"x":0.899},{"t":6.37,"x":0.868},{"t":6.5,"x":0.882},{"t":6.64,"x":0.854},{"t":6.78,"x":0.877},{"t":6.91,"x":0.89},{"t":7.05,"x":0.862},{"t":0.3,"x":0.88},{"t":2.55,"x":0.87},{"t":4.0,"x":0.88},{"t":6.0,"x":0.89},
{"t":0.04,"x":0.928},{"t":0.17,"x":0.912},{"t":0.31,"x":0.941},{"t":0.44,"x":0.906},{"t":0.57,"x":0.924},{"t":0.71,"x":0.947},{"t":0.84,"x":0.915},{"t":0.98,"x":0.933},{"t":1.11,"x":0.903},{"t":1.25,"x":0.927},{"t":1.38,"x":0.944},{"t":1.52,"x":0.91},{"t":1.65,"x":0.931},{"t":1.79,"x":0.904},{"t":1.92,"x":0.922},{"t":2.06,"x":0.945},{"t":2.19,"x":0.913},{"t":2.33,"x":0.936},{"t":2.46,"x":0.907},{"t":2.6,"x":0.925},{"t":2.73,"x":0.942},{"t":2.87,"x":0.916},{"t":3.01,"x":0.934},{"t":3.14,"x":0.902},{"t":3.28,"x":0.926},{"t":3.41,"x":0.948},{"t":3.55,"x":0.914},{"t":3.68,"x":0.937},{"t":3.82,"x":0.908},{"t":3.96,"x":0.921},{"t":4.09,"x":0.943},{"t":4.23,"x":0.917},{"t":4.36,"x":0.932},{"t":4.5,"x":0.905},{"t":4.64,"x":0.929},{"t":4.77,"x":0.946},{"t":4.91,"x":0.911},{"t":5.04,"x":0.935},{"t":5.18,"x":0.901},{"t":5.31,"x":0.923},{"t":5.45,"x":0.94},{"t":5.59,"x":0.918},{"t":5.72,"x":0.938},{"t":5.86,"x":0.909},{"t":5.99,"x":0.926},{"t":6.13,"x":0.949},{"t":6.26,"x":0.913},{"t":6.4,"x":0.93},{"t":6.54,"x":0.906},{"t":6.67,"x":0.928},{"t":6.81,"x":0.944},{"t":6.94,"x":0.919},{"t":7.08,"x":0.936},{"t":1.0,"x":0.92},{"t":2.9,"x":0.91},{"t":4.5,"x":0.935},{"t":6.5,"x":0.915},
{"t":0.09,"x":0.972},{"t":0.23,"x":0.958},{"t":0.36,"x":0.985},{"t":0.5,"x":0.963},{"t":0.63,"x":0.978},{"t":0.77,"x":0.955},{"t":0.9,"x":0.981},{"t":1.04,"x":0.967},{"t":1.18,"x":0.988},{"t":1.31,"x":0.959},{"t":1.45,"x":0.975},{"t":1.58,"x":0.952},{"t":1.72,"x":0.983},{"t":1.85,"x":0.966},{"t":1.99,"x":0.977},{"t":2.12,"x":0.956},{"t":2.26,"x":0.986},{"t":2.4,"x":0.969},{"t":2.53,"x":0.953},{"t":2.67,"x":0.98},{"t":2.8,"x":0.964},{"t":2.94,"x":0.974},{"t":3.07,"x":0.957},{"t":3.21,"x":0.987},{"t":3.35,"x":0.962},{"t":3.48,"x":0.976},{"t":3.62,"x":0.954},{"t":3.75,"x":0.982},{"t":3.89,"x":0.968},{"t":4.03,"x":0.979},{"t":4.16,"x":0.951},{"t":4.3,"x":0.984},{"t":4.43,"x":0.965},{"t":4.57,"x":0.973},{"t":4.71,"x":0.958},{"t":4.84,"x":0.989},{"t":4.98,"x":0.961},{"t":5.11,"x":0.977},{"t":5.25,"x":0.955},{"t":5.38,"x":0.981},{"t":5.52,"x":0.967},{"t":5.66,"x":0.974},{"t":5.79,"x":0.953},{"t":5.93,"x":0.985},{"t":6.06,"x":0.963},{"t":6.2,"x":0.978},{"t":6.34,"x":0.957},{"t":6.47,"x":0.982},{"t":6.61,"x":0.969},{"t":6.74,"x":0.975},{"t":6.88,"x":0.956},{"t":7.01,"x":0.984},{"t":7.13,"x":0.966}
],
"bc": [
{"t":0,"x":0.004},{"t":0,"x":0.013},{"t":0,"x":0.02},{"t":0,"x":0.031},{"t":0,"x":0.038},{"t":0,"x":0.047},{"t":0,"x":0.055},{"t":0,"x":0.066},{"t":0,"x":0.072},{"t":0,"x":0.081},{"t":0,"x":0.09},{"t":0,"x":0.101},{"t":0,"x":0.108},{"t":0,"x":0.117},{"t":0,"x":0.126},{"t":0,"x":0.133},{"t":0,"x":0.144},{"t":0,"x":0.151},{"t":0,"x":0.159},{"t":0,"x":0.168},{"t":0,"x":0.177},{"t":0,"x":0.186},{"t":0,"x":0.192},{"t":0,"x":0.203},{"t":0,"x":0.211},{"t":0,"x":0.219},{"t":0,"x":0.23},{"t":0,"x":0.236},{"t":0,"x":0.247},{"t":0,"x":0.254},{"t":0,"x":0.263},{"t":0,"x":0.272},{"t":0,"x":0.279},{"t":0,"x":0.29},{"t":0,"x":0.297},{"t":0,"x":0.305},{"t":0,"x":0.316},{"t":0,"x":0.322},{"t":0,"x":0.333},{"t":0,"x":0.341},{"t":0,"x":0.348},{"t":0,"x":0.359},{"t":0,"x":0.366},{"t":0,"x":0.375},{"t":0,"x":0.384},{"t":0,"x":0.391},{"t":0,"x":0.402},{"t":0,"x":0.409},{"t":0,"x":0.418},{"t":0,"x":0.427},{"t":0,"x":0.434},{"t":0,"x":0.445},{"t":0,"x":0.452},{"t":0,"x":0.461},{"t":0,"x":0.469},{"t":0,"x":0.478},{"t":0,"x":0.488},{"t":0,"x":0.494},{"t":0,"x":0.505},{"t":0,"x":0.512},{"t":0,"x":0.521},{"t":0,"x":0.53},{"t":0,"x":0.537},{"t":0,"x":0.548},{"t":0,"x":0.555},{"t":0,"x":0.563},{"t":0,"x":0.573},{"t":0,"x":0.58},{"t":0,"x":0.59},{"t":0,"x":0.597},{"t":0,"x":0.606},{"t":0,"x":0.615},{"t":0,"x":0.622},{"t":0,"x":0.633},{"t":0,"x":0.64},{"t":0,"x":0.649},{"t":0,"x":0.657},{"t":0,"x":0.666},{"t":0,"x":0.676},{"t":0,"x":0.683},{"t":0,"x":0.691},{"t":0,"x":0.701},{"t":0,"x":0.708},{"t":0,"x":0.717},{"t":0,"x":0.726},{"t":0,"x":0.733},{"t":0,"x":0.744},{"t":0,"x":0.751},{"t":0,"x":0.759},{"t":0,"x":0.769},{"t":0,"x":0.776},{"t":0,"x":0.786},{"t":0,"x":0.793},{"t":0,"x":0.802},{"t":0,"x":0.811},{"t":0,"x":0.818},{"t":0,"x":0.829},{"t":0,"x":0.836},{"t":0,"x":0.845},{"t":0,"x":0.853},{"t":0,"x":0.861},{"t":0,"x":0.871},{"t":0,"x":0.878},{"t":0,"x":0.888},{"t":0,"x":0.895},{"t":0,"x":0.904},{"t":0,"x":0.913},{"t":0,"x":0.92},{"t":0,"x":0.93},{"t":0,"x":0.937},{"t":0,"x":0.946},{"t":0,"x":0.955},{"t":0,"x":0.962},{"t":0,"x":0.972},{"t":0,"x":0.979},{"t":0,"x":0.988},{"t":0,"x":0.996},
{"t":0.01,"x":1},{"t":0.04,"x":1},{"t":0.09,"x":1},{"t":0.12,"x":1},{"t":0.17,"x":1},{"t":0.22,"x":1},{"t":0.25,"x":1},{"t":0.31,"x":1},{"t":0.34,"x":1},{"t":0.38,"x":1},{"t":0.44,"x":1},{"t":0.47,"x":1},{"t":0.52,"x":1},{"t":0.57,"x":1},{"t":0.6,"x":1},{"t":0.66,"x":1},{"t":0.69,"x":1},{"t":0.73,"x":1},{"t":0.78,"x":1},{"t":0.83,"x":1},{"t":0.86,"x":1},{"t":0.92,"x":1},{"t":0.95,"x":1},{"t":0.99,"x":1},{"t":1.05,"x":1},{"t":1.08,"x":1},{"t":1.13,"x":1},{"t":1.18,"x":1},{"t":1.21,"x":1},{"t":1.27,"x":1},{"t":1.3,"x":1},{"t":1.35,"x":1},{"t":1.4,"x":1},{"t":1.43,"x":1},{"t":1.49,"x":1},{"t":1.53,"x":1},{"t":1.57,"x":1},{"t":1.62,"x":1},{"t":1.66,"x":1},{"t":1.72,"x":1},{"t":1.75,"x":1},{"t":1.79,"x":1},{"t":1.85,"x":1},{"t":1.88,"x":1},{"t":1.93,"x":1},{"t":1.98,"x":1},{"t":2.01,"x":1},{"t":2.07,"x":1},{"t":2.1,"x":1},{"t":2.15,"x":1},{"t":2.2,"x":1},{"t":2.23,"x":1},{"t":2.29,"x":1},{"t":2.32,"x":1},{"t":2.37,"x":1},{"t":2.42,"x":1},{"t":2.45,"x":1},{"t":2.51,"x":1},{"t":2.54,"x":1},{"t":2.59,"x":1},{"t":2.64,"x":1},{"t":2.67,"x":1},{"t":2.72,"x":1},{"t":2.77,"x":1},{"t":2.8,"x":1},{"t":2.86,"x":1},{"t":2.89,"x":1},{"t":2.94,"x":1},{"t":2.99,"x":1},{"t":3.02,"x":1},{"t":3.08,"x":1},{"t":3.11,"x":1},{"t":3.16,"x":1},{"t":3.21,"x":1},{"t":3.24,"x":1},{"t":3.3,"x":1},{"t":3.33,"x":1},{"t":3.38,"x":1},{"t":3.43,"x":1},{"t":3.46,"x":1},{"t":3.52,"x":1},{"t":3.55,"x":1},{"t":3.6,"x":1},{"t":3.65,"x":1},{"t":3.68,"x":1},{"t":3.74,"x":1},{"t":3.77,"x":1},{"t":3.82,"x":1},{"t":3.87,"x":1},{"t":3.9,"x":1},{"t":3.96,"x":1},{"t":3.99,"x":1},{"t":4.04,"x":1},{"t":4.09,"x":1},{"t":4.12,"x":1},{"t":4.18,"x":1},{"t":4.21,"x":1},{"t":4.26,"x":1},{"t":4.31,"x":1},{"t":4.34,"x":1},{"t":4.4,"x":1},{"t":4.43,"x":1},{"t":4.48,"x":1},{"t":4.53,"x":1},{"t":4.56,"x":1},{"t":4.62,"x":1},{"t":4.65,"x":1},{"t":4.7,"x":1},{"t":4.75,"x":1},{"t":4.78,"x":1},{"t":4.84,"x":1},{"t":4.87,"x":1},{"t":4.92,"x":1},{"t":4.97,"x":1},{"t":5.0,"x":1},{"t":5.06,"x":1},{"t":5.09,"x":1},{"t":5.14,"x":1},{"t":5.19,"x":1},{"t":5.22,"x":1},{"t":5.28,"x":1},{"t":5.31,"x":1},{"t":5.36,"x":1},{"t":5.41,"x":1},{"t":5.44,"x":1},{"t":5.5,"x":1},{"t":5.53,"x":1},{"t":5.58,"x":1},{"t":5.63,"x":1},{"t":5.66,"x":1},{"t":5.72,"x":1},{"t":5.75,"x":1},{"t":5.8,"x":1},{"t":5.85,"x":1},{"t":5.88,"x":1},{"t":5.94,"x":1},{"t":5.97,"x":1},{"t":6.02,"x":1},{"t":6.07,"x":1},{"t":6.1,"x":1},{"t":6.16,"x":1},{"t":6.19,"x":1},{"t":6.24,"x":1},{"t":6.29,"x":1},{"t":6.32,"x":1},{"t":6.38,"x":1},{"t":6.41,"x":1},{"t":6.46,"x":1},{"t":6.51,"x":1},{"t":6.54,"x":1},{"t":6.6,"x":1},{"t":6.63,"x":1},{"t":6.68,"x":1},{"t":6.73,"x":1},{"t":6.76,"x":1},{"t":6.82,"x":1},{"t":6.85,"x":1},{"t":6.9,"x":1},{"t":6.95,"x":1},{"t":6.98,"x":1},{"t":7.04,"x":1},{"t":7.07,"x":1},{"t":7.11,"x":1},{"t":7.14,"x":1},
{"t":0.02,"x":0},{"t":0.06,"x":0},{"t":0.1,"x":0},{"t":0.15,"x":0},{"t":0.18,"x":0},{"t":0.24,"x":0},{"t":0.28,"x":0},{"t":0.31,"x":0},{"t":0.37,"x":0},{"t":0.4,"x":0},{"t":0.45,"x":0},{"t":0.5,"x":0},{"t":0.53,"x":0},{"t":0.59,"x":0},{"t":0.62,"x":0},{"t":0.67,"x":0},{"t":0.72,"x":0},{"t":0.75,"x":0},{"t":0.81,"x":0},{"t":0.84,"x":0},{"t":0.89,"x":0},{"t":0.94,"x":0},{"t":0.97,"x":0},{"t":1.03,"x":0},{"t":1.06,"x":0},{"t":1.11,"x":0},{"t":1.16,"x":0},{"t":1.19,"x":0},{"t":1.25,"x":0},{"t":1.28,"x":0},{"t":1.33,"x":0},{"t":1.38,"x":0},{"t":1.41,"x":0},{"t":1.47,"x":0},{"t":1.5,"x":0},{"t":1.55,"x":0},{"t":1.6,"x":0},{"t":1.63,"x":0},{"t":1.69,"x":0},{"t":1.72,"x":0},{"t":1.77,"x":0},{"t":1.82,"x":0},{"t":1.85,"x":0},{"t":1.91,"x":0},{"t":1.94,"x":0},{"t":1.99,"x":0},{"t":2.04,"x":0},{"t":2.07,"x":0},{"t":2.13,"x":0},{"t":2.16,"x":0},{"t":2.21,"x":0},{"t":2.26,"x":0},{"t":2.29,"x":0},{"t":2.35,"x":0},{"t":2.38,"x":0},{"t":2.43,"x":0},{"t":2.48,"x":0},{"t":2.51,"x":0},{"t":2.57,"x":0},{"t":2.6,"x":0},{"t":2.65,"x":0},{"t":2.7,"x":0},{"t":2.73,"x":0},{"t":2.79,"x":0},{"t":2.82,"x":0},{"t":2.87,"x":0},{"t":2.92,"x":0},{"t":2.95,"x":0},{"t":3.01,"x":0},{"t":3.04,"x":0},{"t":3.09,"x":0},{"t":3.14,"x":0},{"t":3.17,"x":0},{"t":3.23,"x":0},{"t":3.26,"x":0},{"t":3.31,"x":0},{"t":3.36,"x":0},{"t":3.39,"x":0},{"t":3.45,"x":0},{"t":3.48,"x":0},{"t":3.53,"x":0},{"t":3.58,"x":0},{"t":3.61,"x":0},{"t":3.67,"x":0},{"t":3.7,"x":0},{"t":3.75,"x":0},{"t":3.8,"x":0},{"t":3.83,"x":0},{"t":3.89,"x":0},{"t":3.92,"x":0},{"t":3.97,"x":0},{"t":4.02,"x":0},{"t":4.05,"x":0},{"t":4.11,"x":0},{"t":4.14,"x":0},{"t":4.19,"x":0},{"t":4.24,"x":0},{"t":4.27,"x":0},{"t":4.33,"x":0},{"t":4.36,"x":0},{"t":4.41,"x":0},{"t":4.46,"x":0},{"t":4.49,"x":0},{"t":4.55,"x":0},{"t":4.58,"x":0},{"t":4.63,"x":0},{"t":4.68,"x":0},{"t":4.71,"x":0},{"t":4.77,"x":0},{"t":4.8,"x":0},{"t":4.85,"x":0},{"t":4.9,"x":0},{"t":4.93,"x":0},{"t":4.99,"x":0},{"t":5.02,"x":0},{"t":5.07,"x":0},{"t":5.12,"x":0},{"t":5.15,"x":0},{"t":5.21,"x":0},{"t":5.24,"x":0},{"t":5.29,"x":0},{"t":5.34,"x":0},{"t":5.37,"x":0},{"t":5.43,"x":0},{"t":5.46,"x":0},{"t":5.51,"x":0},{"t":5.56,"x":0},{"t":5.59,"x":0},{"t":5.65,"x":0},{"t":5.68,"x":0},{"t":5.73,"x":0},{"t":5.78,"x":0},{"t":5.81,"x":0},{"t":5.87,"x":0},{"t":5.9,"x":0},{"t":5.95,"x":0},{"t":6.0,"x":0},{"t":6.03,"x":0},{"t":6.09,"x":0},{"t":6.12,"x":0},{"t":6.17,"x":0},{"t":6.22,"x":0},{"t":6.25,"x":0},{"t":6.31,"x":0},{"t":6.34,"x":0},{"t":6.39,"x":0},{"t":6.44,"x":0},{"t":6.47,"x":0},{"t":6.53,"x":0},{"t":6.56,"x":0},{"t":6.61,"x":0},{"t":6.66,"x":0},{"t":6.69,"x":0},{"t":6.75,"x":0},{"t":6.78,"x":0},{"t":6.83,"x":0},{"t":6.88,"x":0},{"t":6.91,"x":0},{"t":6.97,"x":0},{"t":7.0,"x":0},{"t":7.05,"x":0},{"t":7.09,"x":0},{"t":7.13,"x":0}
]
},
"hconcat": [
{
"width": 2068, "height": 1190,
"view": {"stroke": "#3a3a3a", "strokeWidth": 2},
"layer": [
{
"data": {"name": "bands"},
"mark": {"type": "rect", "strokeWidth": 1.5},
"encoding": {
"x": {"datum": 0, "type": "quantitative", "scale": {"domain": [0, 7.145], "nice": false, "zero": false},
 "axis": {"title": "τ", "values": [0,1,2,3,4,5,6,7], "format": "d", "grid": false, "domain": false,
  "labelFont": "DejaVu Sans", "labelFontSize": 42, "labelColor": "#333333", "labelPadding": 12,
  "tickSize": 10, "tickWidth": 2, "tickColor": "#333333",
  "titleFont": "Liberation Serif", "titleFontStyle": "italic", "titleFontWeight": "normal", "titleFontSize": 84, "titleColor": "black",
  "titleX": 1113, "titleY": 93, "titleAlign": "center", "titleBaseline": "middle"}},
"x2": {"datum": 7.145},
"y": {"field": "x0", "type": "quantitative", "scale": {"domain": [0, 1], "nice": false, "zero": false},
 "axis": {"title": "x", "values": [0,0.2,0.4,0.6,0.8], "format": ".1f", "grid": false, "domain": false,
  "labelFont": "DejaVu Sans", "labelFontSize": 42, "labelColor": "#333333", "labelPadding": 22,
  "tickSize": 10, "tickWidth": 2, "tickColor": "#333333",
  "titleFont": "Liberation Serif", "titleFontStyle": "italic", "titleFontWeight": "normal", "titleFontSize": 84, "titleColor": "black",
  "titleAngle": 0, "titleX": -155, "titleY": 612, "titleAlign": "center", "titleBaseline": "middle"}},
"y2": {"field": "x1"},
"color": {"field": "f", "type": "quantitative", "legend": null,
 "scale": {"domain": [0.043,0.1387,0.2344,0.3301,0.4258,0.5215,0.6172,0.7129,0.8086,0.9043,1.0],
  "range": ["#8000ff","#4d4ffc","#1a96f2","#1acee3","#4df3ce","#80ffb4","#b3f396","#e6ce74","#ff964f","#ff4f28","#ff0000"], "interpolate": "rgb", "clamp": true}},
"stroke": {"field": "f", "type": "quantitative", "legend": null,
 "scale": {"domain": [0.043,0.1387,0.2344,0.3301,0.4258,0.5215,0.6172,0.7129,0.8086,0.9043,1.0],
  "range": ["#8000ff","#4d4ffc","#1a96f2","#1acee3","#4df3ce","#80ffb4","#b3f396","#e6ce74","#ff964f","#ff4f28","#ff0000"], "interpolate": "rgb", "clamp": true}}
}
},
{
"data": {"name": "pts"},
"mark": {"type": "point", "shape": "M-1,-1L1,1M-1,1L1,-1", "filled": false, "size": 361, "strokeWidth": 3.5, "stroke": "black", "strokeOpacity": 0.6},
"encoding": {"x": {"field": "t", "type": "quantitative"}, "y": {"field": "x", "type": "quantitative"}}
},
{
"data": {"name": "bc"},
"mark": {"type": "point", "shape": "M-1,-1L1,1M-1,1L1,-1", "filled": false, "size": 400, "strokeWidth": 10, "stroke": "black", "strokeOpacity": 0.9},
"encoding": {"x": {"field": "t", "type": "quantitative"}, "y": {"field": "x", "type": "quantitative"}}
}
]
},
{
"width": 103, "height": 1190,
"data": {"name": "bands"},
"view": {"stroke": "#444444", "strokeWidth": 3},
"mark": {"type": "rect", "clip": true, "strokeWidth": 1.5},
"encoding": {
"x": {"datum": 0, "type": "quantitative", "scale": {"domain": [0, 1]}, "axis": null},
"x2": {"datum": 1},
"y": {"field": "u0", "type": "quantitative", "scale": {"domain": [0.043, 1.0], "nice": false, "zero": false},
 "axis": {"orient": "right", "title": null, "values": [0.2,0.4,0.6,0.8,1.0], "format": ".1f", "grid": false, "domain": false,
  "labelFont": "DejaVu Sans", "labelFontSize": 70, "labelColor": "#222222", "labelPadding": 8,
  "tickSize": 18, "tickWidth": 3, "tickColor": "#333333"}},
"y2": {"field": "u1"},
"color": {"field": "u", "type": "quantitative", "legend": null,
 "scale": {"domain": [0.043,0.1387,0.2344,0.3301,0.4258,0.5215,0.6172,0.7129,0.8086,0.9043,1.0],
  "range": ["#8000ff","#4d4ffc","#1a96f2","#1acee3","#4df3ce","#80ffb4","#b3f396","#e6ce74","#ff964f","#ff4f28","#ff0000"], "interpolate": "rgb", "clamp": true}},
"stroke": {"field": "u", "type": "quantitative", "legend": null,
 "scale": {"domain": [0.043,0.1387,0.2344,0.3301,0.4258,0.5215,0.6172,0.7129,0.8086,0.9043,1.0],
  "range": ["#8000ff","#4d4ffc","#1a96f2","#1acee3","#4df3ce","#80ffb4","#b3f396","#e6ce74","#ff964f","#ff4f28","#ff0000"], "interpolate": "rgb", "clamp": true}}
}
}
]
}
